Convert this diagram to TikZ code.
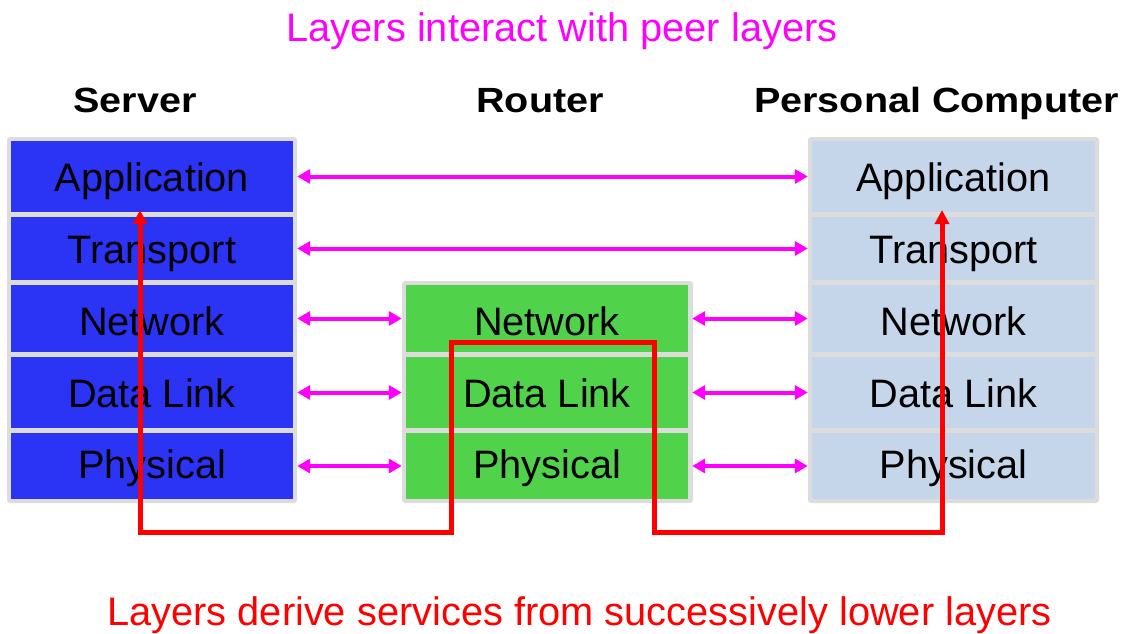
\documentclass[tikz,border=0pt]{standalone}
\usepackage{fontspec}
\setmainfont{Liberation Sans}
\usetikzlibrary{arrows.meta}
\definecolor{srvblue}{RGB}{43,51,245}
\definecolor{rtrgreen}{RGB}{80,210,74}
\definecolor{pcblue}{RGB}{198,214,234}
\definecolor{edgegray}{RGB}{220,220,220}
\definecolor{peermag}{RGB}{255,0,255}
\definecolor{svcred}{RGB}{255,0,0}
% one protocol layer: name, centre x, width, centre y, height, baseline y, fill, text
\newcommand\layerbox[8]{%
  \node[layer, fill=#7, minimum width=#3pt, minimum height=#5pt] (#1) at (#2,#4) {};
  \node[layertext, anchor=base] (#1-t) at (#2,#6) {#8};
}
\begin{document}
\begin{tikzpicture}[x=1pt,y=-1pt,
  layer/.style={rectangle, inner sep=0pt},
  layertext/.style={inner sep=0pt, text=black, font=\fontsize{39.7}{44}\selectfont},
  stackbg/.style={fill=edgegray, rounded corners=3pt},
  heading/.style={inner sep=0pt, anchor=base, text=black,
    font=\fontsize{35}{40}\selectfont\bfseries},
  caption/.style={inner sep=0pt, anchor=base, font=\fontsize{39.8}{44}\selectfont},
  peer/.style={draw=peermag, line width=4pt,
    {Triangle[length=13pt,width=14pt]}-{Triangle[length=13pt,width=14pt]}},
  svc/.style={draw=svcred, line width=5pt, line join=miter,
    -{Triangle[length=14pt,width=14pt]}}]

\useasboundingbox[fill=white] (0,0) rectangle (1124,634);

% stack backgrounds
\fill[stackbg] (7,137) rectangle (297,503);
\fill[stackbg] (402,281) rectangle (693,503);
\fill[stackbg] (808,137) rectangle (1099,503);

% server stack
\layerbox{sApp}{152}{282}{176.5}{71}{191.7}{srvblue}{Application}
\layerbox{sTrn}{152}{282}{248.5}{63}{263.4}{srvblue}{Transport}
\layerbox{sNet}{152}{282}{318.5}{67}{335.0}{srvblue}{Network}
\layerbox{sDl}{152}{282}{392.5}{71}{407.3}{srvblue}{Data Link}
\layerbox{sPhy}{152}{282}{466}{66}{478.3}{srvblue}{Physical}

% router stack
\layerbox{rNet}{547}{282}{318.5}{67}{335.0}{rtrgreen}{Network}
\layerbox{rDl}{547}{282}{392.5}{71}{407.3}{rtrgreen}{Data Link}
\layerbox{rPhy}{547}{282}{466}{66}{478.3}{rtrgreen}{Physical}

% personal computer stack
\layerbox{pApp}{953.5}{283}{176.5}{71}{191.7}{pcblue}{Application}
\layerbox{pTrn}{953.5}{283}{248.5}{63}{263.4}{pcblue}{Transport}
\layerbox{pNet}{953.5}{283}{318.5}{67}{335.0}{pcblue}{Network}
\layerbox{pDl}{953.5}{283}{392.5}{71}{407.3}{pcblue}{Data Link}
\layerbox{pPhy}{953.5}{283}{466}{66}{478.3}{pcblue}{Physical}

% headings and captions
\node[caption, text=peermag] (top) at (562,41.6) {Layers interact with peer layers};
\node[heading] (hSrv) at (135,112.6) {\scalebox{1.13}[1]{Server}};
\node[heading] (hRtr) at (540,112.6) {\scalebox{1.13}[1]{Router}};
\node[heading] (hPc)  at (936.5,112.6) {\scalebox{1.13}[1]{Personal Computer}};
\node[caption, text=svcred] (bottom) at (579.5,625.7) {Layers derive services from successively lower layers};

% peer-to-peer arrows
\draw[peer] ([xshift=4pt]sApp.east) -- ([xshift=-4pt]pApp.west);
\draw[peer] ([xshift=4pt]sTrn.east) -- ([xshift=-4pt]pTrn.west);
\foreach \a in {Net, Dl, Phy}{
  \draw[peer] ([xshift=4pt]s\a.east) -- ([xshift=-4pt]r\a.west);
  \draw[peer] ([xshift=4pt]r\a.east) -- ([xshift=-4pt]p\a.west);
}

% service path down and up through the layers
\coordinate (sTip) at (140,210);
\coordinate (sLow) at (140,532);
\coordinate (rInL) at (451,532);
\coordinate (rTopL) at (451,342);
\coordinate (rTopR) at (654,342);
\coordinate (rInR) at (654,532);
\coordinate (pLow) at (942,532);
\coordinate (pTip) at (942,210);
\draw[svc, {Triangle[length=14pt,width=14pt]}-{Triangle[length=14pt,width=14pt]}]
  (sTip) -- (sLow) -- (rInL) -- (rTopL) -- (rTopR) -- (rInR) -- (pLow) -- (pTip);

\end{tikzpicture}
\end{document}
